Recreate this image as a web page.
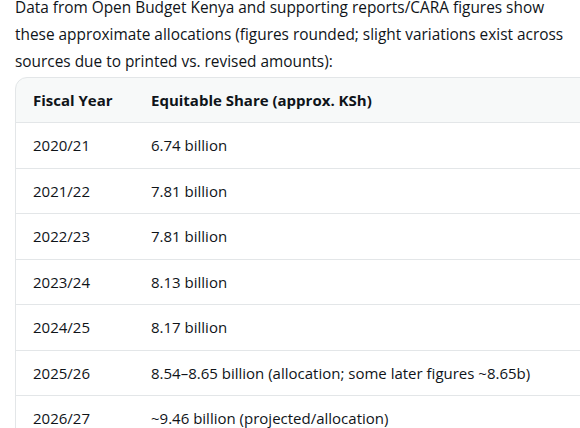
<!DOCTYPE html>
<html><head><meta charset="utf-8">
<script src="https://cdn.jsdelivr.net/npm/chart.js@4"></script>
<style>
html,body{margin:0;padding:0;width:580px;height:428px;overflow:hidden;background:#fff;font-family:"Open Sans","Noto Sans",sans-serif;color:#0f1419}
#p{position:absolute;left:15px;top:-6px;width:570px;font-size:15.4px;line-height:27px;white-space:nowrap}
#box{position:absolute;left:15px;top:77px;width:600px;height:400px;border:1px solid #e3e6e8;border-radius:12px;background:#f7f9f9}
table{border-collapse:collapse;width:100%;font-size:15px}
th{font-weight:700;text-align:left;height:44px;padding:0;border-bottom:1px solid #e3e6e8}
td{height:44.5px;padding:0;border-bottom:1px solid #e3e6e8;background:#fff}
.c1{padding-left:17px;width:118px}
</style></head><body>
<div id="p">Data from Open Budget Kenya and supporting reports/CARA figures show<br>these approximate allocations (figures rounded; slight variations exist across<br>sources due to printed vs. revised amounts):</div>
<div id="box"><table id="t"></table></div>
<script>
const headers=["Fiscal Year","Equitable Share (approx. KSh)"];
const years=["2020/21","2021/22","2022/23","2023/24","2024/25","2025/26","2026/27"];
const shares=["6.74 billion","7.81 billion","7.81 billion","8.13 billion","8.17 billion","8.54–8.65 billion (allocation; some later figures ~8.65b)","~9.46 billion (projected/allocation)"];
const t=document.getElementById('t');
let h='<tr><th class="c1">'+headers[0]+'</th><th>'+headers[1]+'</th></tr>';
years.forEach((y,i)=>{h+='<tr><td class="c1">'+y+'</td><td>'+shares[i]+'</td></tr>';});
t.innerHTML=h;
</script>
</body></html>
